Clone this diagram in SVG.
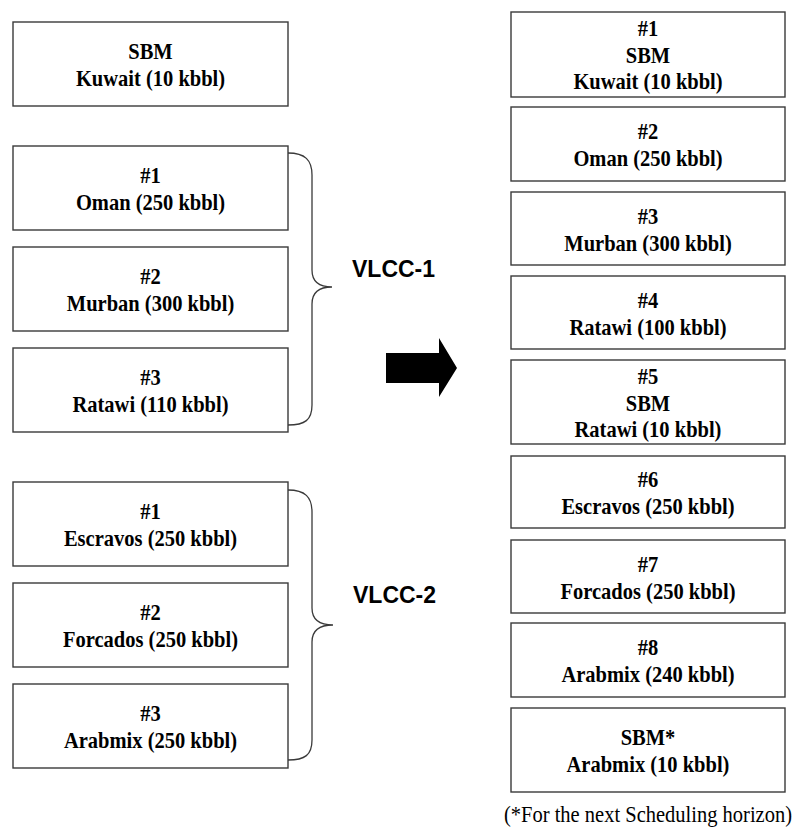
<svg xmlns="http://www.w3.org/2000/svg" width="794" height="829" viewBox="0 0 794 829">
<style>
.box{fill:#fff;stroke:#3a3a3a;stroke-width:1.4}
.t{font-family:"Liberation Serif","Times New Roman",serif;font-weight:bold;font-size:22.3px;fill:#000;text-anchor:middle}
.v{font-family:"Liberation Sans",Arial,sans-serif;font-weight:bold;font-size:23px;fill:#000}
.brace{fill:none;stroke:#3a3a3a;stroke-width:1.3}
.note{font-family:"Liberation Serif","Times New Roman",serif;font-size:22.3px;fill:#000;text-anchor:middle}
</style>
<rect width="794" height="829" fill="#fff"/>
<g id="L-SBM"><rect class="box" x="13" y="22" width="275" height="84"/><g transform="translate(150.5 0) scale(0.92 1)"><text class="t" x="0" y="59">SBM</text><text class="t" x="0" y="86">Kuwait (10 kbbl)</text></g></g>
<g id="L-V1-1"><rect class="box" x="13" y="146" width="275" height="84"/><g transform="translate(150.5 0) scale(0.92 1)"><text class="t" x="0" y="183">#1</text><text class="t" x="0" y="210">Oman (250 kbbl)</text></g></g>
<g id="L-V1-2"><rect class="box" x="13" y="247" width="275" height="84"/><g transform="translate(150.5 0) scale(0.92 1)"><text class="t" x="0" y="284">#2</text><text class="t" x="0" y="311">Murban (300 kbbl)</text></g></g>
<g id="L-V1-3"><rect class="box" x="13" y="348" width="275" height="84"/><g transform="translate(150.5 0) scale(0.92 1)"><text class="t" x="0" y="385">#3</text><text class="t" x="0" y="412">Ratawi (110 kbbl)</text></g></g>
<g id="L-V2-1"><rect class="box" x="13" y="482" width="275" height="84"/><g transform="translate(150.5 0) scale(0.92 1)"><text class="t" x="0" y="519">#1</text><text class="t" x="0" y="546">Escravos (250 kbbl)</text></g></g>
<g id="L-V2-2"><rect class="box" x="13" y="583" width="275" height="84"/><g transform="translate(150.5 0) scale(0.92 1)"><text class="t" x="0" y="620">#2</text><text class="t" x="0" y="647">Forcados (250 kbbl)</text></g></g>
<g id="L-V2-3"><rect class="box" x="13" y="684" width="275" height="84"/><g transform="translate(150.5 0) scale(0.92 1)"><text class="t" x="0" y="721">#3</text><text class="t" x="0" y="748">Arabmix (250 kbbl)</text></g></g>

<g id="connectors">
<path class="brace" d="M288,153 C305,153 312,160 312,175 L312,270 C312,282 320,287 332,287 C320,287 312,292 312,304 L312,405 C312,420 305,425 288,425"/>
<path class="brace" d="M288,490 C305,490 312,497 312,512 L312,608 C312,620 320,625 333,625 C320,625 312,630 312,642 L312,740 C312,755 305,760 288,760"/>
<polygon points="386,353 439,353 439,338 457,368 439,397 439,383 386,383" fill="#000"/>
</g>
<g id="VLCC-1"><text class="v" x="352" y="277">VLCC-1</text></g>
<g id="VLCC-2"><text class="v" x="353" y="603">VLCC-2</text></g>

<g id="R1"><rect class="box" x="511" y="12" width="274" height="85"/><g transform="translate(648 0) scale(0.92 1)"><text class="t" x="0" y="36">#1</text><text class="t" x="0" y="63">SBM</text><text class="t" x="0" y="89">Kuwait (10 kbbl)</text></g></g>
<g id="R2"><rect class="box" x="511" y="107" width="274" height="74"/><g transform="translate(648 0) scale(0.92 1)"><text class="t" x="0" y="139">#2</text><text class="t" x="0" y="166">Oman (250 kbbl)</text></g></g>
<g id="R3"><rect class="box" x="511" y="192" width="274" height="73"/><g transform="translate(648 0) scale(0.92 1)"><text class="t" x="0" y="224">#3</text><text class="t" x="0" y="251">Murban (300 kbbl)</text></g></g>
<g id="R4"><rect class="box" x="511" y="276" width="274" height="73"/><g transform="translate(648 0) scale(0.92 1)"><text class="t" x="0" y="308">#4</text><text class="t" x="0" y="335">Ratawi (100 kbbl)</text></g></g>
<g id="R5"><rect class="box" x="511" y="360" width="274" height="84"/><g transform="translate(648 0) scale(0.92 1)"><text class="t" x="0" y="384">#5</text><text class="t" x="0" y="411">SBM</text><text class="t" x="0" y="437">Ratawi (10 kbbl)</text></g></g>
<g id="R6"><rect class="box" x="511" y="456" width="274" height="72"/><g transform="translate(648 0) scale(0.92 1)"><text class="t" x="0" y="487">#6</text><text class="t" x="0" y="514">Escravos (250 kbbl)</text></g></g>
<g id="R7"><rect class="box" x="511" y="540" width="274" height="73"/><g transform="translate(648 0) scale(0.92 1)"><text class="t" x="0" y="572">#7</text><text class="t" x="0" y="599">Forcados (250 kbbl)</text></g></g>
<g id="R8"><rect class="box" x="511" y="623" width="274" height="74"/><g transform="translate(648 0) scale(0.92 1)"><text class="t" x="0" y="655">#8</text><text class="t" x="0" y="682">Arabmix (240 kbbl)</text></g></g>
<g id="R9"><rect class="box" x="511" y="708" width="274" height="84"/><g transform="translate(648 0) scale(0.92 1)"><text class="t" x="0" y="745">SBM*</text><text class="t" x="0" y="772">Arabmix (10 kbbl)</text></g></g>
<g id="note"><g transform="translate(648 0) scale(0.92 1)"><text class="note" x="0" y="822">(*For the next Scheduling horizon)</text></g></g>
</svg>
